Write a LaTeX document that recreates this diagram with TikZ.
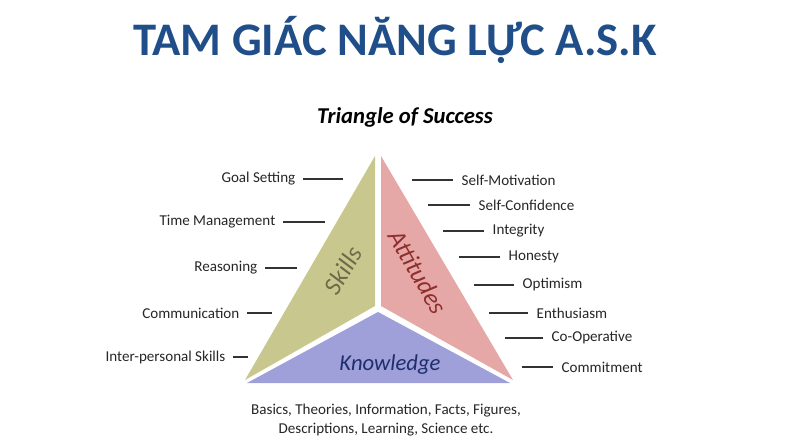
\documentclass[tikz,border=0pt]{standalone}
\usepackage{fontspec}
\setmainfont{Carlito}
\definecolor{skc}{HTML}{C8C88E}
\definecolor{atc}{HTML}{E6A8A6}
\definecolor{knc}{HTML}{9F9FD9}
\definecolor{ttl}{HTML}{1F4E89}
\definecolor{skt}{HTML}{6B6B4A}
\definecolor{att}{HTML}{8E2E2E}
\definecolor{knt}{HTML}{1F2F6E}
\begin{document}
\begin{tikzpicture}[x=0.75pt,y=-0.75pt,
  lbl/.style={font=\fontsize{11.3}{13}\selectfont, text=black!85},
  ln/.style={draw=black!80, line width=0.8pt}]
\useasboundingbox (0,0) rectangle (800,446);
\node (title) at (395,40) {\fontsize{35}{38}\selectfont\bfseries\color{ttl}TAM GIÁC NĂNG LỰC A.S.K};
\node (tos) at (405,117) {\fontsize{17}{19}\selectfont\bfseries\itshape Triangle of Success};
\fill[skc] (375,156) -- (245,380) -- (375,306) -- cycle;
\fill[atc] (381,156) -- (513,380) -- (381,306) -- cycle;
\fill[knc] (378,312) -- (247,383) -- (510,383) -- cycle;
\node[rotate=60] (sk) at (343,270) {\fontsize{19}{21}\selectfont\itshape\color{skt}Skills};
\node[rotate=-60] (at) at (418,272) {\fontsize{19}{21}\selectfont\itshape\color{att}Attitudes};
\node (kn) at (390,365) {\fontsize{17}{19}\selectfont\itshape\color{knt}Knowledge};
\foreach \t/\x/\y/\e in {Goal Setting/303/179/343, Time Management/283/222/325, Reasoning/265/268/297, Communication/247/313/272, Inter-personal Skills/233/357/248}{
  \node[lbl, anchor=east] (n) at (\x-3,\y) {\t};
  \coordinate (c) at (\e,\y);
  \draw[ln] (n.east) ++(3,0) -- (c);
}
\foreach \t/\x/\y/\e in {Self-Motivation/412/180/453, Self-Confidence/428/205/470, Integrity/443/231/484, Honesty/459/257/500, Optimism/474/285/514, Enthusiasm/489/313/528, Co-Operative/505/338/543, Commitment/522/367/553}{
  \node[lbl, anchor=west] (n) at (\e+4,\y) {\t};
  \coordinate (c) at (\x,\y);
  \draw[ln] (c) -- ++(\e-\x,0);
}
\node[lbl, align=center] (bt) at (386,420) {Basics, Theories, Information, Facts, Figures,\\[1pt]Descriptions, Learning, Science etc.};
\end{tikzpicture}
\end{document}
